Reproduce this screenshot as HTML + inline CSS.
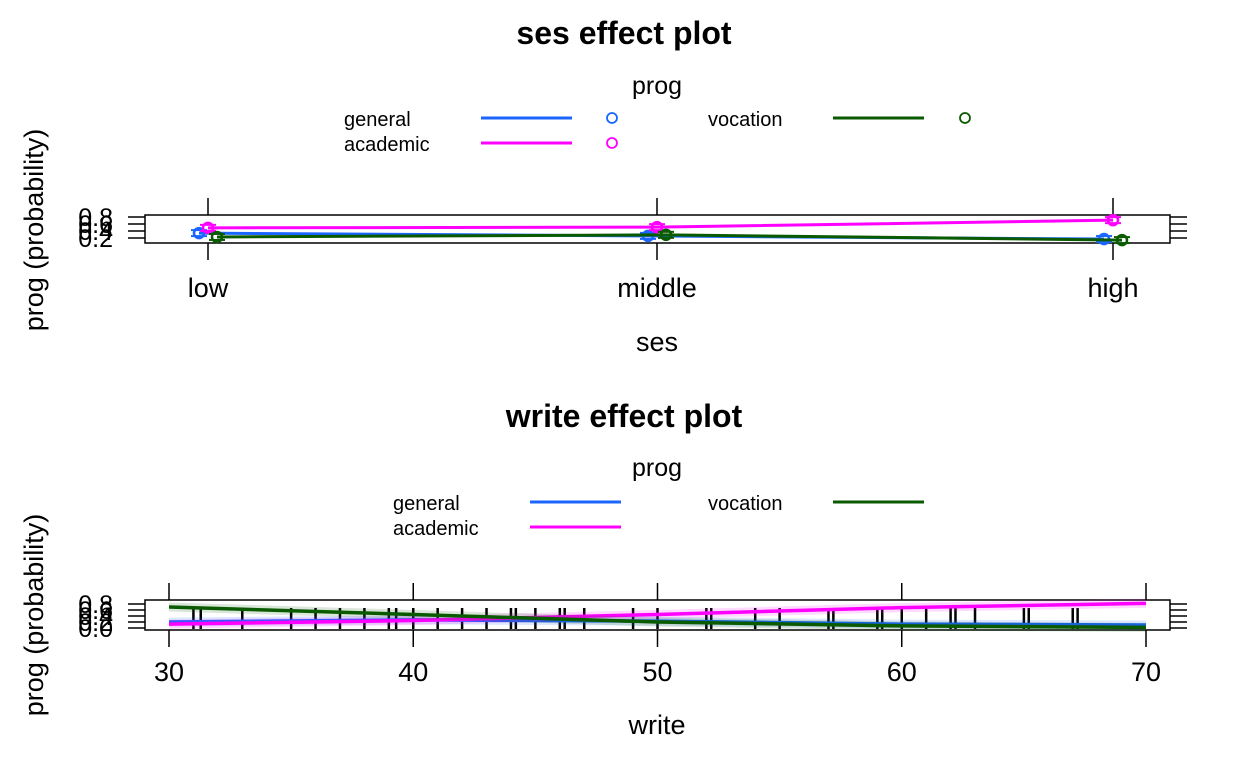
<!DOCTYPE html>
<html><head><meta charset="utf-8"><style>
body{margin:0;background:#fff}
svg{display:block;font-family:"Liberation Sans",sans-serif}
</style></head><body>
<svg id="c" width="1248" height="768"></svg>
<script>
const sesCats=["low","middle","high"];
const sesGeneral=[0.34,0.26,0.17];
const sesAcademic=[0.49,0.51,0.71];
const sesVocation=[0.23,0.29,0.14];
const yTicks1=[0.2,0.4,0.6,0.8];
const writeX=[30,40,50,60,70];
const writeGeneral=[0.2,0.27,0.23,0.13,0.1];
const writeAcademic=[0.13,0.25,0.45,0.68,0.82];
const writeVocation=[0.7,0.45,0.2,0.07,0.02];
const xTicks2=[30,40,50,60,70];
const yTicks2=[0.0,0.2,0.4,0.6,0.8];
const rug=[31,31.3,33,35,36,37,38,39,39.3,40,41,42,43,44,44.2,45,46,46.2,47,49,50,52,52.2,54,55,57,57.2,59,59.2,60,61,62,62.2,63,65,65.2,67,67.2];

const svg=document.getElementById('c');
const NS='http://www.w3.org/2000/svg';
function mk(tag,attrs,parent){const e=document.createElementNS(NS,tag);for(const k in attrs)e.setAttribute(k,attrs[k]);(parent||svg).appendChild(e);return e;}
function txt(s,x,y,size,opts,parent){const t=mk('text',Object.assign({x:x,y:y,'font-size':size,'text-anchor':'middle'},opts||{}),parent);t.textContent=s;return t;}
const COL={general:'#1a66ff',academic:'#ff00ff',vocation:'#0a5a00'};

// ===== Panel 1 =====
const p1=mk('g',{});


let t=txt('ses effect plot',624,44,32,{'font-weight':'bold'},p1);

const x1=i=>[208,657,1113][i];
const y1=v=>245-v*35;
mk('rect',{x:145,y:215,width:1025,height:28,fill:'none',stroke:'#000','stroke-width':1.5},p1);
yTicks1.forEach(v=>{mk('line',{x1:128,x2:145,y1:y1(v),y2:y1(v),stroke:'#000','stroke-width':1.5},p1);
 mk('line',{x1:1170,x2:1187,y1:y1(v),y2:y1(v),stroke:'#000','stroke-width':1.5},p1);
 const l=txt(v.toFixed(1),113,y1(v)+9,25,{'text-anchor':'end'},p1);
 });
sesCats.forEach((c,i)=>{mk('line',{x1:x1(i),x2:x1(i),y1:198,y2:215,stroke:'#000','stroke-width':1.5},p1);
 mk('line',{x1:x1(i),x2:x1(i),y1:243,y2:260,stroke:'#000','stroke-width':1.5},p1);
 const l=txt(c,x1(i),297,27,{},p1);});
[['general',sesGeneral,-9],['academic',sesAcademic,0],['vocation',sesVocation,9]].forEach(([n,d,off])=>{
 const pts=d.map((v,i)=>(x1(i)+off)+','+y1(v)).join(' ');
 const pl=mk('polyline',{points:pts,fill:'none',stroke:COL[n],'stroke-width':3},p1);
 
 d.forEach((v,i)=>{const cx=x1(i)+off,cy=y1(v);
  mk('line',{x1:cx-8,x2:cx+8,y1:cy-3,y2:cy-3,stroke:COL[n],'stroke-width':2},p1);
  mk('line',{x1:cx-8,x2:cx+8,y1:cy+3,y2:cy+3,stroke:COL[n],'stroke-width':2},p1);
  const c=mk('circle',{cx:cx,cy:cy,r:5,fill:'none',stroke:COL[n],'stroke-width':2.5},p1);
  });
});
t=txt('ses',657,351,27,{},p1);
t=txt('prog (probability)',0,0,27,{transform:'translate(43,230) rotate(-90)'},p1);
const lg1=mk('g',{},p1);
txt('prog',657,94,25,{},lg1);
[['general',344,119,481,612],['academic',344,144,481,612],['vocation',708,119,833,965]].forEach(([n,x,y,lx,cx])=>{
 txt(n,x,y+7,20,{'text-anchor':'start'},lg1);
 mk('line',{x1:lx,x2:lx+91,y1:y-1,y2:y-1,stroke:COL[n],'stroke-width':3},lg1);
 mk('circle',{cx:cx,cy:y-1,r:5,fill:'none',stroke:COL[n],'stroke-width':1.8},lg1);});

// ===== Panel 2 =====
const p2=mk('g',{});


t=txt('write effect plot',624,427,32,{'font-weight':'bold'},p2);

const x2=v=>169+(v-30)*(1146-169)/40;
const y2=v=>628-v*30;
mk('rect',{x:145,y:600,width:1025,height:30,fill:'none',stroke:'#000','stroke-width':1.5},p2);
yTicks2.forEach(v=>{mk('line',{x1:128,x2:145,y1:y2(v),y2:y2(v),stroke:'#000','stroke-width':1.5},p2);
 mk('line',{x1:1170,x2:1187,y1:y2(v),y2:y2(v),stroke:'#000','stroke-width':1.5},p2);
 const l=txt(v.toFixed(1),113,y2(v)+9,25,{'text-anchor':'end'},p2);
 });
xTicks2.forEach(v=>{mk('line',{x1:x2(v),x2:x2(v),y1:583,y2:600,stroke:'#000','stroke-width':1.5},p2);
 mk('line',{x1:x2(v),x2:x2(v),y1:630,y2:647,stroke:'#000','stroke-width':1.5},p2);
 const l=txt(String(v),x2(v),681,27,{},p2);});
rug.forEach(v=>{const r=mk('line',{x1:x2(v),x2:x2(v),y1:608,y2:629,stroke:'#000','stroke-width':2.5},p2);
 });
[['general',writeGeneral],['academic',writeAcademic],['vocation',writeVocation]].forEach(([n,d])=>{
 const pts=d.map((v,i)=>x2(writeX[i])+','+y2(v)).join(' ');
 mk('polyline',{points:pts,fill:'none',stroke:COL[n],'stroke-width':9,'stroke-opacity':0.15},p2);
 const pl=mk('polyline',{points:pts,fill:'none',stroke:COL[n],'stroke-width':3.5},p2);
 });
t=txt('write',657,734,27,{},p2);
t=txt('prog (probability)',0,0,27,{transform:'translate(43,615) rotate(-90)'},p2);
const lg2=mk('g',{},p2);
txt('prog',657,476,25,{},lg2);
[['general',393,503,530],['academic',393,528,530],['vocation',708,503,833]].forEach(([n,x,y,lx])=>{
 txt(n,x,y+7,20,{'text-anchor':'start'},lg2);
 mk('line',{x1:lx,x2:lx+91,y1:y-1,y2:y-1,stroke:COL[n],'stroke-width':3},lg2);});
</script>
</body></html>
